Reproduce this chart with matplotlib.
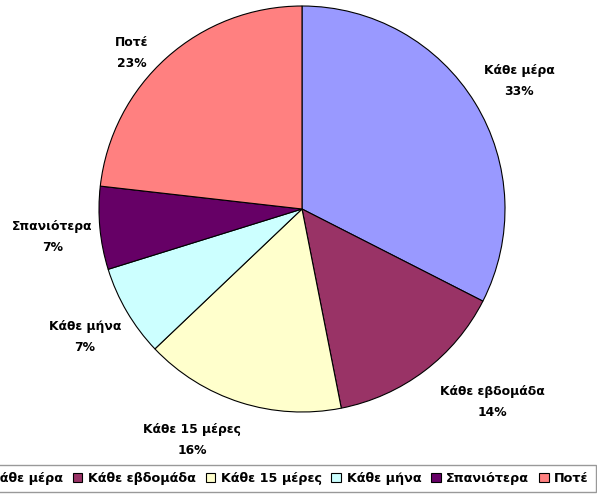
import math
import matplotlib
matplotlib.use("Agg")
import matplotlib.pyplot as plt

categories = ["Κάθε μέρα", "Κάθε εβδομάδα", "Κάθε 15 μέρες", "Κάθε μήνα", "Σπανιότερα", "Ποτέ"]
values = [32.5, 14.4, 16.0, 7.3, 6.6, 23.2]
colors = ["#9999FF", "#993366", "#FFFFCC", "#CCFFFF", "#660066", "#FF8080"]

# label anchor positions (layout, in pie-radius units)
label_pos = [(1.07, 0.63), (0.94, -0.95), (-0.54, -1.14), (-1.07, -0.63), (-1.23, -0.14), (-0.84, 0.77)]

W, H = 597, 495
fig = plt.figure(figsize=(W / 100, H / 100), dpi=100)
ax = fig.add_axes([0, 0, 1, 1])

cx, cy, R = 302, 209, 203
wedges, _ = ax.pie(values, colors=colors, startangle=90, counterclock=False,
                   radius=1, center=(0, 0),
                   wedgeprops=dict(edgecolor="black", linewidth=0.8))
ax.set_xlim(-cx / R, (W - cx) / R)
ax.set_ylim(-(H - cy) / R, cy / R)
ax.set_aspect("equal")
ax.axis("off")

font = dict(family="DejaVu Sans", fontsize=8.9, fontweight="bold")
total = sum(values)
for cat, v, (x, y) in zip(categories, values, label_pos):
    pct = int(math.floor(v / total * 100 + 0.5))
    ax.text(x, y, f"{cat}\n{pct}%", ha="center", va="center", linespacing=1.8, **font)

leg = fig.legend(wedges, categories, loc="center right", bbox_to_anchor=(0.998, 0.034),
                 ncol=6, frameon=True, fancybox=False, edgecolor="#808080",
                 prop=dict(family="DejaVu Sans", size=9.2, weight="bold"),
                 handlelength=0.75, handleheight=0.75, handletextpad=0.45,
                 columnspacing=0.75, borderpad=0.55, borderaxespad=0)
leg.get_frame().set_linewidth(1.0)

fig.savefig("out.png", dpi=100)
